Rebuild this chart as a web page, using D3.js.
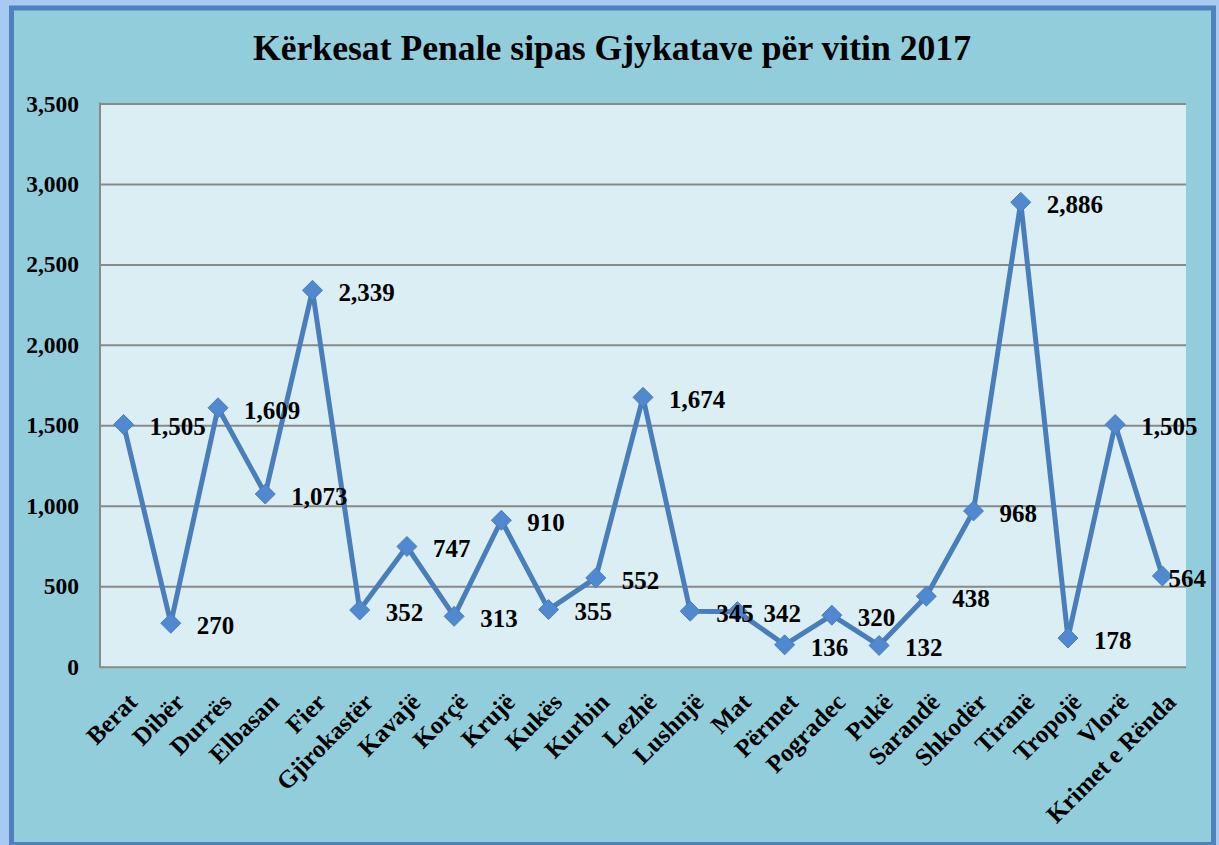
<!DOCTYPE html>
<html>
<head>
<meta charset="utf-8">
<script src="https://cdn.jsdelivr.net/npm/d3@7"></script>
<style>
  html, body { margin: 0; padding: 0; background: #a8c9f1; }
  svg { display: block; }
</style>
</head>
<body>
<div id="chart"></div>
<script>
const courts = ["Berat", "Dibër", "Durrës", "Elbasan", "Fier", "Gjirokastër", "Kavajë", "Korçë",
  "Krujë", "Kukës", "Kurbin", "Lezhë", "Lushnjë", "Mat", "Përmet", "Pogradec", "Pukë",
  "Sarandë", "Shkodër", "Tiranë", "Tropojë", "Vlorë", "Krimet e Rënda"];
const requests = [1505, 270, 1609, 1073, 2339, 352, 747, 313, 910, 355, 552, 1674, 345, 342,
  136, 320, 132, 438, 968, 2886, 178, 1505, 564];
const yTicks = [0, 500, 1000, 1500, 2000, 2500, 3000, 3500];
const title = "Kërkesat Penale sipas Gjykatave për vitin 2017";

const width = 1219, height = 845;
const plot = {left: 100, right: 1186, top: 103.5, bottom: 666.7};
const serif = "'Liberation Serif', 'DejaVu Serif', serif";
const fmt = d3.format(",");

const svg = d3.select("#chart").append("svg")
    .attr("width", width)
    .attr("height", height)
    .style("font-family", serif)
    .style("font-weight", "bold");

// outer chart area with its blue frame
svg.append("rect")
    .attr("x", 11.5).attr("y", 8)
    .attr("width", 1202).attr("height", 836.5)
    .attr("fill", "#92cddc")
    .attr("stroke", "#4f81bd")
    .attr("stroke-width", 5);

const x = d3.scaleBand()
    .domain(courts)
    .range([plot.left, plot.right]);

const y = d3.scaleLinear()
    .domain([0, 3500])
    .range([plot.bottom, plot.top]);

svg.append("rect")
    .attr("x", plot.left).attr("y", plot.top)
    .attr("width", plot.right - plot.left)
    .attr("height", plot.bottom - plot.top)
    .attr("fill", "#daeef3");

// title
svg.append("text")
    .attr("x", 612).attr("y", 60)
    .attr("text-anchor", "middle")
    .attr("font-size", 36)
    .attr("fill", "#000")
    .attr("textLength", 718)
    .attr("lengthAdjust", "spacingAndGlyphs")
    .text(title);

// y axis with gridlines
const yAxis = svg.append("g")
    .attr("transform", `translate(${plot.left},0)`)
    .call(d3.axisLeft(y).tickValues(yTicks).tickFormat(fmt)
      .tickSize(-(plot.right - plot.left)).tickPadding(21));
yAxis.select(".domain").remove();
yAxis.selectAll(".tick line")
    .attr("stroke", "#898989")
    .attr("stroke-width", 2);
yAxis.selectAll(".tick text")
    .attr("font-size", 23.5)
    .attr("font-family", serif)
    .attr("font-weight", "bold")
    .attr("fill", "#000");

svg.append("line")
    .attr("x1", plot.left).attr("x2", plot.left)
    .attr("y1", plot.top - 1).attr("y2", plot.bottom + 1)
    .attr("stroke", "#898989")
    .attr("stroke-width", 2);

// category labels, rotated
svg.append("g").selectAll("text")
    .data(courts)
    .join("text")
      .attr("transform", d => `translate(${x(d) + x.bandwidth() / 2 + 15},${plot.bottom + 37}) rotate(-45)`)
      .attr("text-anchor", "end")
      .attr("font-size", 25)
      .attr("fill", "#000")
      .text(d => d);

// line + diamonds
const pts = courts.map((c, i) => ({name: c, value: requests[i],
  px: x(c) + x.bandwidth() / 2, py: y(requests[i])}));

svg.append("path")
    .datum(pts)
    .attr("fill", "none")
    .attr("stroke", "#4a7ebb")
    .attr("stroke-width", 5)
    .attr("stroke-linejoin", "round")
    .attr("d", d3.line().x(d => d.px).y(d => d.py));

svg.append("g").selectAll("path")
    .data(pts)
    .join("path")
      .attr("transform", d => `translate(${d.px},${d.py})`)
      .attr("d", "M0,-10L10,0L0,10L-10,0Z")
      .attr("fill", "#5189d1")
      .attr("stroke", "#4a7ebb")
      .attr("stroke-width", 1);

// data labels to the right of each point, kept inside the chart area
svg.append("g").selectAll("text")
    .data(pts)
    .join("text")
      .attr("x", d => d.px + 26)
      .attr("y", d => d.py + 2)
      .attr("dy", "0.35em")
      .attr("font-size", 25)
      .attr("fill", "#000")
      .text(d => fmt(d.value))
      .each(function() {
        const w = this.getComputedTextLength();
        const x0 = +this.getAttribute("x");
        if (x0 + w > 1206) this.setAttribute("x", 1206 - w);
      });
</script>
</body>
</html>
